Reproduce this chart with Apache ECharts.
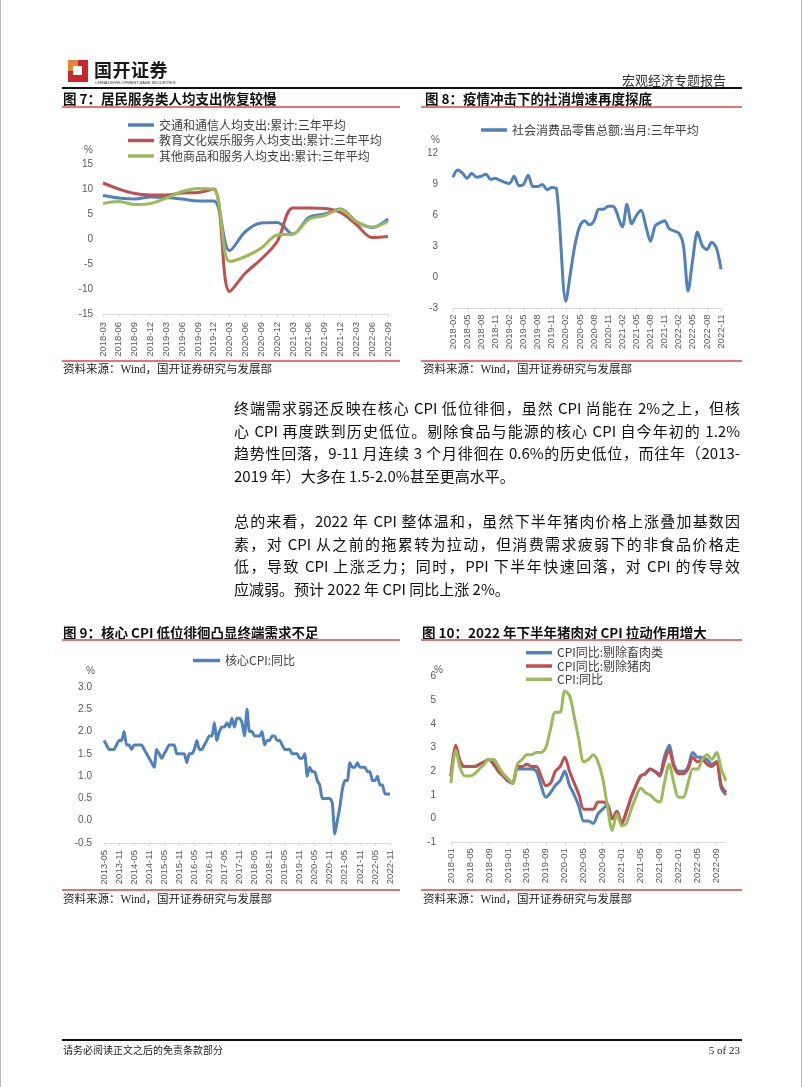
<!DOCTYPE html>
<html><head><meta charset="utf-8">
<script src="https://cdn.jsdelivr.net/npm/echarts@6/dist/echarts.min.js"></script>
<style>
html,body{margin:0;padding:0;background:#fff;}
#page{position:relative;width:802px;height:1087px;overflow:hidden;font-family:"Noto Sans CJK SC",sans-serif;color:#000;}
#chart{position:absolute;left:0;top:0;width:802px;height:1087px;}
.t{position:absolute;white-space:nowrap;}
.title{position:absolute;white-space:nowrap;font-size:13.5px;font-weight:bold;line-height:18px;color:#111;}
.rl{position:absolute;height:1.5px;background:#e57373;}
.src{position:absolute;white-space:nowrap;font-size:11.5px;line-height:14px;color:#222;font-family:"Liberation Serif","Noto Sans CJK SC",serif;}
.body{position:absolute;left:234px;width:506px;font-size:15px;line-height:22px;white-space:nowrap;color:#111;}
.j{text-align:justify;text-align-last:justify;white-space:normal;}
.pct{position:absolute;font-size:10px;line-height:12px;color:#595959;font-family:"Liberation Sans",sans-serif;}
</style></head>
<body>
<div id="page">
<div id="chart"></div>
<div style="position:absolute;left:0;top:0;width:1px;height:1087px;background:#bbb"></div>
<div style="position:absolute;left:801px;top:0;width:1px;height:1087px;background:#bbb"></div>
<!-- header -->
<div style="position:absolute;left:68px;top:60px;width:20px;height:22px;background:#c9252c"></div>
<div style="position:absolute;left:68px;top:60px;width:10px;height:11px;background:#e8833a"></div>
<div style="position:absolute;left:73px;top:66px;width:9px;height:9px;background:#fff"></div>
<div class="t" style="left:94px;top:58px;font-size:18px;font-weight:bold;line-height:22px;color:#1a1a1a;letter-spacing:0.5px">国开证券</div>
<div class="t" style="left:95px;top:80px;font-size:4px;line-height:5px;color:#333;font-family:'Liberation Sans'">CHINA DEVELOPMENT BANK SECURITIES</div>
<div class="t" style="left:622px;top:72px;font-size:13px;line-height:16px;color:#333">宏观经济专题报告</div>
<div style="position:absolute;left:62px;top:87px;width:680px;height:2px;background:#111"></div>
<!-- titles top -->
<div class="title" style="left:63px;top:89px">图 7：居民服务类人均支出恢复较慢</div>
<div class="title" style="left:425px;top:89px">图 8：疫情冲击下的社消增速再度探底</div>
<div class="rl" style="left:62px;top:106px;width:338px"></div>
<div class="rl" style="left:421px;top:106px;width:321px"></div>
<div class="pct" style="left:84px;top:144px">%</div>
<div class="pct" style="left:431px;top:134px">%</div>
<div class="rl" style="left:62px;top:360px;width:338px"></div>
<div class="rl" style="left:421px;top:360px;width:321px"></div>
<div class="src" style="left:63px;top:362px">资料来源：Wind，国开证券研究与发展部</div>
<div class="src" style="left:423px;top:362px">资料来源：Wind，国开证券研究与发展部</div>
<!-- body text -->
<div class="body j" style="top:397px">终端需求弱还反映在核心 CPI 低位徘徊，虽然 CPI 尚能在 2%之上，但核</div>
<div class="body j" style="top:419.5px">心 CPI 再度跌到历史低位。剔除食品与能源的核心 CPI 自今年初的 1.2%</div>
<div class="body j" style="top:442px">趋势性回落，9-11 月连续 3 个月徘徊在 0.6%的历史低位，而往年（2013-</div>
<div class="body" style="top:464.5px">2019 年）大多在 1.5-2.0%甚至更高水平。</div>
<div class="body j" style="top:510px">总的来看，2022 年 CPI 整体温和，虽然下半年猪肉价格上涨叠加基数因</div>
<div class="body j" style="top:532.5px">素，对 CPI 从之前的拖累转为拉动，但消费需求疲弱下的非食品价格走</div>
<div class="body j" style="top:555px">低，导致 CPI 上涨乏力；同时，PPI 下半年快速回落，对 CPI 的传导效</div>
<div class="body" style="top:577.5px">应减弱。预计 2022 年 CPI 同比上涨 2%。</div>
<!-- titles bottom -->
<div class="title" style="left:63px;top:623px">图 9：核心 CPI 低位徘徊凸显终端需求不足</div>
<div class="title" style="left:422px;top:623px">图 10：2022 年下半年猪肉对 CPI 拉动作用增大</div>
<div class="rl" style="left:62px;top:639px;width:338px"></div>
<div class="rl" style="left:421px;top:639px;width:321px"></div>
<div class="pct" style="left:86px;top:665px">%</div>
<div class="pct" style="left:434px;top:664px">%</div>
<div class="rl" style="left:62px;top:889px;width:338px"></div>
<div class="rl" style="left:421px;top:889px;width:321px"></div>
<div class="src" style="left:63px;top:892px">资料来源：Wind，国开证券研究与发展部</div>
<div class="src" style="left:423px;top:892px">资料来源：Wind，国开证券研究与发展部</div>
<!-- footer -->
<div style="position:absolute;left:62px;top:1039px;width:680px;height:1.5px;background:#111"></div>
<div class="t" style="left:63px;top:1043px;font-size:10px;line-height:14px;color:#222">请务必阅读正文之后的免责条款部分</div>
<div class="t" style="left:700px;top:1043px;width:40px;text-align:right;font-size:11px;line-height:14px;color:#222;font-family:'Liberation Serif',serif">5 of 23</div>
</div>
<script>
// ---------- data ----------
function monthRange(start, end) {
  var out = [], y = +start.slice(0,4), m = +start.slice(5,7);
  var ey = +end.slice(0,4), em = +end.slice(5,7);
  while (y < ey || (y === ey && m <= em)) {
    out.push(y + '-' + (m < 10 ? '0' + m : m));
    m++; if (m > 12) { m = 1; y++; }
  }
  return out;
}
// Chart 7 (quarterly)
var c7Cats = ['2018-03','2018-06','2018-09','2018-12','2019-03','2019-06','2019-09','2019-12','2020-03','2020-06','2020-09','2020-12','2021-03','2021-06','2021-09','2021-12','2022-03','2022-06','2022-09'];
var c7Transport = [8.7, 8.2, 8.0, 8.4, 8.3, 8.0, 7.6, 7.6, -2.3, 1.5, 3.2, 3.3, 1.0, 4.3, 5.0, 6.0, 3.5, 2.3, 4.0];
var c7Education = [11.2, 10.0, 9.1, 8.8, 8.8, 9.2, 9.3, 10.0, -10.5, -6.8, -4.0, -0.5, 6.2, 6.2, 6.1, 5.3, 2.9, 0.3, 0.5];
var c7Other = [7.1, 7.5, 6.9, 7.1, 8.2, 9.5, 10.1, 9.9, -4.5, -3.5, -1.8, 0.8, 1.0, 3.9, 4.7, 5.9, 3.5, 2.4, 3.5];
var c7Names = ['交通和通信人均支出:累计:三年平均','教育文化娱乐服务人均支出:累计:三年平均','其他商品和服务人均支出:累计:三年平均'];
// Chart 8 (monthly, January not published)
var c8Cats = monthRange('2018-02', '2022-11');
var c8Retail = [
  9.7, 10.4, 10.1, 9.6, 10.1, 9.7, 9.8, 10.0, 9.5, 9.6, 9.4,
  null, 9.1, 9.8, 8.9, 9.0, 9.9, 8.8, 8.8, 9.0, 8.5, 8.7, 8.6,
  null, -2.3, 0.5, 3.3, 5.0, 5.5, 5.1, 5.5, 6.6, 6.6, 6.9, 6.9,
  null, 4.9, 7.1, 5.2, 6.0, 6.5, 5.0, 3.5, 5.0, 5.3, 5.5, 4.7,
  null, 4.3, 3.1, -1.3, 1.8, 4.4, 3.1, 2.7, 3.4, 2.9, 0.8
];
var c8Name = '社会消费品零售总额:当月:三年平均';
// Chart 9 (monthly)
var c9Cats = monthRange('2013-05', '2022-11');
var c9Core = [
  1.8, 1.7, 1.6, 1.6, 1.6, 1.7, 1.8, 1.8,
  2.0, 1.7, 1.7, 1.6, 1.7, 1.7, 1.7, 1.7, 1.6, 1.5, 1.4, 1.3,
  1.2, 1.6, 1.5, 1.4, 1.5, 1.6, 1.7, 1.7, 1.7, 1.5, 1.5, 1.5,
  1.5, 1.3, 1.5, 1.5, 1.6, 1.8, 1.6, 1.6, 1.7, 1.8, 1.9, 1.9,
  2.2, 1.8, 2.0, 2.1, 2.1, 2.2, 2.1, 2.3, 2.1, 2.3, 2.3, 2.2,
  1.9, 2.5, 2.0, 2.0, 1.9, 1.9, 1.9, 2.0, 1.7, 1.8, 1.8, 1.9,
  1.9, 1.8, 1.8, 1.7, 1.6, 1.6, 1.6, 1.5, 1.5, 1.5, 1.4, 1.4,
  1.5, 1.0, 1.2, 1.1, 1.1, 0.9, 0.8, 0.5, 0.5, 0.5, 0.5, 0.4,
  -0.3, 0.0, 0.3, 0.7, 0.9, 0.9, 1.3, 1.2, 1.2, 1.3, 1.2, 1.2,
  1.2, 1.1, 1.1, 0.9, 0.9, 1.0, 0.8, 0.8, 0.6, 0.6, 0.6
];
var c9Name = '核心CPI:同比';
// Chart 10 (monthly)
var c10Cats = monthRange('2018-01', '2022-11');
var c10ExMeat = [
  1.8, 3.0, 2.3, 2.2, 2.2, 2.2, 2.3, 2.4, 2.5, 2.3, 2.0, 1.8,
  1.6, 1.5, 2.1, 2.1, 2.1, 2.1, 2.0, 1.4, 0.9, 1.1, 1.4, 1.6,
  2.0, 1.4, 1.0, 0.5, -0.1, -0.1, -0.2, 0.2, 0.4, 0.6, 0.0, 0.3,
  -0.2, 0.3, 0.9, 1.4, 1.8, 1.9, 2.1, 2.0, 1.9, 2.6, 3.1, 2.3,
  2.0, 2.0, 2.2, 2.8, 2.6, 2.6, 2.5, 2.3, 2.4, 1.3, 1.0
];
var c10ExPork = [
  1.8, 3.1, 2.4, 2.2, 2.2, 2.2, 2.3, 2.4, 2.5, 2.3, 2.0, 1.8,
  1.6, 1.5, 2.2, 2.2, 2.3, 2.2, 2.2, 1.8, 1.4, 1.5, 2.0, 2.2,
  2.6, 2.0, 1.5, 1.0, 0.4, 0.4, 0.4, 0.7, 0.7, 0.6, 0.0, 0.3,
  -0.2, 0.3, 0.9, 1.4, 1.8, 1.9, 2.1, 2.0, 1.8, 2.4, 2.9, 2.2,
  1.9, 1.9, 2.1, 2.6, 2.4, 2.5, 2.3, 2.2, 2.4, 1.4, 1.1
];
var c10Cpi = [
  1.5, 2.9, 2.1, 1.8, 1.8, 1.9, 2.1, 2.3, 2.5, 2.5, 2.2, 1.9,
  1.7, 1.5, 2.3, 2.5, 2.7, 2.7, 2.8, 2.8, 3.0, 3.8, 4.5, 4.5,
  5.4, 5.2, 4.3, 3.3, 2.4, 2.5, 2.7, 2.4, 1.7, 0.5, -0.5, 0.2,
  -0.3, -0.2, 0.4, 0.9, 1.3, 1.1, 1.0, 0.8, 0.7, 1.5, 2.3, 1.5,
  0.9, 0.9, 1.5, 2.1, 2.1, 2.5, 2.7, 2.5, 2.8, 2.1, 1.6
];
var c10Names = ['CPI同比:剔除畜肉类','CPI同比:剔除猪肉','CPI:同比'];

// ---------- styling ----------
var BLUE = '#4F81BD', RED = '#C0504D', GREEN = '#9BBB59';
var LABEL = '#595959', AXIS = '#D9D9D9';
var grids = [], xAxes = [], yAxes = [], series = [], legends = [];

function addPanel(p) {
  var gi = grids.length;
  grids.push({left: p.left, top: p.top, width: p.width, height: p.height, containLabel: false});
  var xi = xAxes.length;
  xAxes.push({
    type: 'category', gridIndex: gi, data: p.cats, boundaryGap: false, position: 'bottom',
    axisLine: {show: false}, axisTick: {show: false}, splitLine: {show: false},
    axisLabel: {rotate: 90, interval: p.labelInterval, margin: p.xMargin, fontSize: 9.5,
      color: LABEL, fontFamily: 'Liberation Sans'}
  });
  xAxes.push({
    type: 'category', gridIndex: gi, data: p.cats, boundaryGap: false, position: 'bottom',
    axisLine: {show: true, onZero: true, lineStyle: {color: AXIS, width: 1}},
    axisTick: {show: true, interval: p.labelInterval, length: 3, lineStyle: {color: AXIS}},
    axisLabel: {show: false}, splitLine: {show: false}
  });
  var yi = yAxes.length;
  yAxes.push({
    type: 'value', gridIndex: gi, min: p.ymin, max: p.ymax, interval: p.yint,
    axisLine: {show: false}, axisTick: {show: false}, splitLine: {show: false},
    axisLabel: {margin: p.yMargin, fontSize: 10, color: LABEL, fontFamily: 'Liberation Sans',
      formatter: p.fmt || function (v) { return String(v); }}
  });
  p.lines.forEach(function (ln) {
    series.push({
      type: 'line', name: ln.name, xAxisIndex: xi, yAxisIndex: yi, data: ln.data,
      symbol: 'none', smooth: p.smooth, connectNulls: true,
      lineStyle: {color: ln.color, width: 3}, itemStyle: {color: ln.color},
      emphasis: {disabled: true}, animation: false
    });
  });
  p.legend.forEach(function (lg) {
    legends.push({
      data: [{name: lg.name, icon: 'rect', itemStyle: {color: lg.color}}],
      left: lg.left, top: lg.cy - 7, padding: 0, itemWidth: lg.w, itemHeight: 3.5,
      selectedMode: false,
      textStyle: {fontSize: 12, color: '#404040', fontFamily: 'Noto Sans CJK SC', lineHeight: 14, height: 14}
    });
  });
}

addPanel({
  left: 103, top: 164, width: 285, height: 150, cats: c7Cats, labelInterval: 0, xMargin: 8,
  ymin: -15, ymax: 15, yint: 5, yMargin: 10, smooth: 0.35,
  lines: [{name: c7Names[0], data: c7Transport, color: BLUE},
          {name: c7Names[1], data: c7Education, color: RED},
          {name: c7Names[2], data: c7Other, color: GREEN}],
  legend: [{name: c7Names[0], left: 128, cy: 125, w: 26, color: BLUE},
           {name: c7Names[1], left: 128, cy: 140.5, w: 26, color: RED},
           {name: c7Names[2], left: 128, cy: 156, w: 26, color: GREEN}]
});
addPanel({
  left: 453, top: 153.5, width: 268, height: 155, cats: c8Cats, labelInterval: 2, xMargin: 6,
  ymin: -3, ymax: 12, yint: 3, yMargin: 15, smooth: 0.3,
  lines: [{name: c8Name, data: c8Retail, color: BLUE}],
  legend: [{name: c8Name, left: 481, cy: 130, w: 26, color: BLUE}]
});
addPanel({
  left: 104, top: 687, width: 286, height: 156, cats: c9Cats, labelInterval: 5, xMargin: 7,
  ymin: -0.5, ymax: 3.0, yint: 0.5, yMargin: 12, smooth: 0.2,
  fmt: function (v) { return v.toFixed(1); },
  lines: [{name: c9Name, data: c9Core, color: BLUE}],
  legend: [{name: c9Name, left: 193, cy: 660.5, w: 27, color: BLUE}]
});
addPanel({
  left: 451, top: 676.7, width: 275, height: 165.6, cats: c10Cats, labelInterval: 3, xMargin: 6,
  ymin: -1, ymax: 6, yint: 1, yMargin: 15, smooth: 0.3,
  lines: [{name: c10Names[0], data: c10ExMeat, color: BLUE},
          {name: c10Names[1], data: c10ExPork, color: RED},
          {name: c10Names[2], data: c10Cpi, color: GREEN}],
  legend: [{name: c10Names[0], left: 526, cy: 652.7, w: 26, color: BLUE},
           {name: c10Names[1], left: 526, cy: 666, w: 26, color: RED},
           {name: c10Names[2], left: 526, cy: 679.3, w: 26, color: GREEN}]
});

var chart = echarts.init(document.getElementById('chart'), null, {renderer: 'canvas'});
chart.setOption({
  animation: false,
  grid: grids, xAxis: xAxes, yAxis: yAxes, series: series, legend: legends
});
</script>
</body></html>
